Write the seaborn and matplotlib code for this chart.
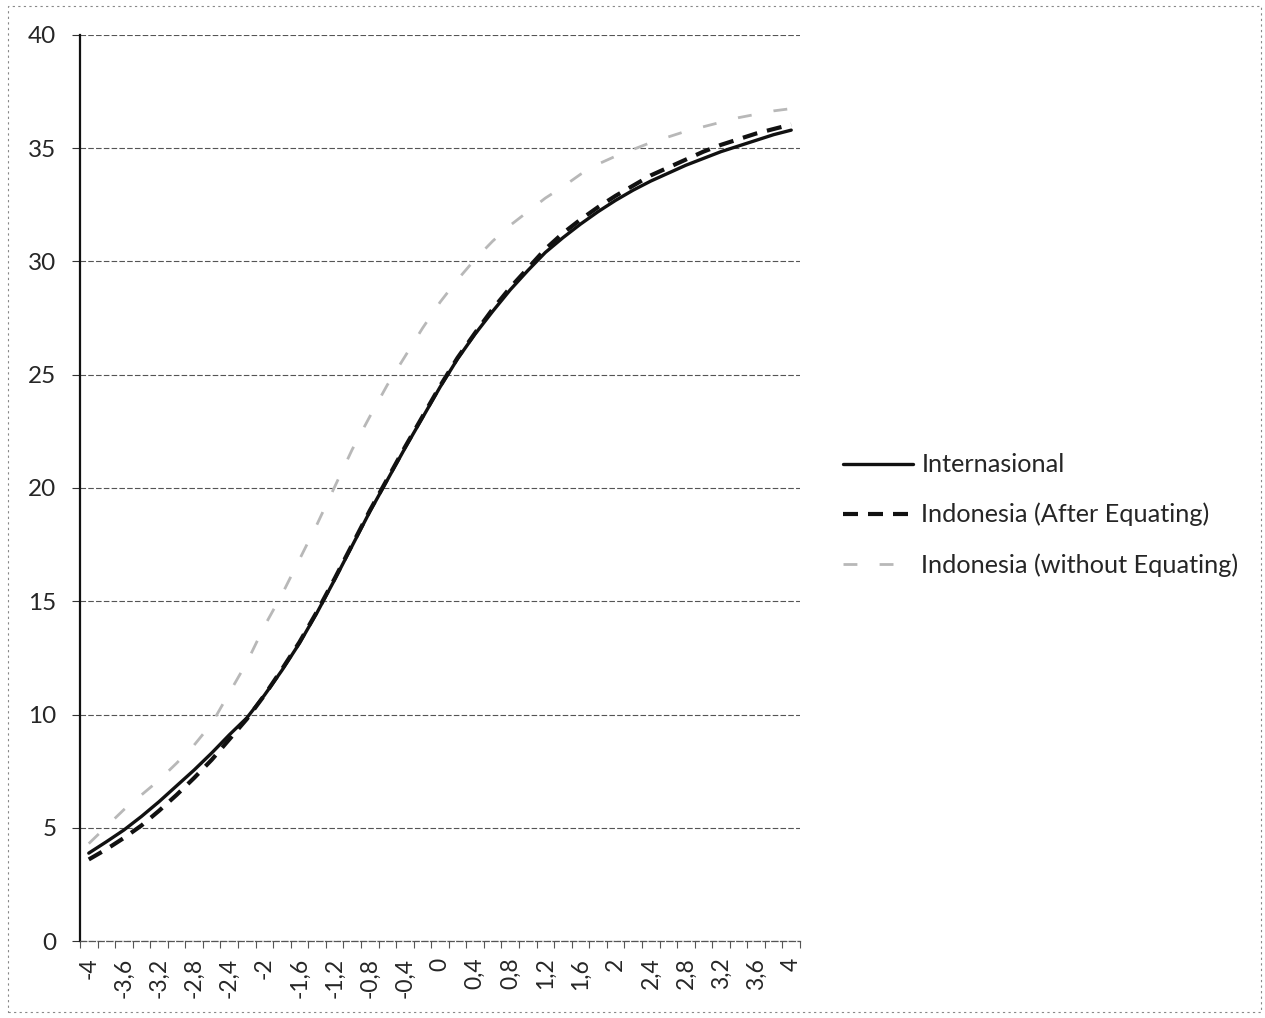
import numpy as np
import pandas as pd
import matplotlib
matplotlib.use("Agg")
import matplotlib.pyplot as plt
from matplotlib.lines import Line2D
from matplotlib.patches import Rectangle
import seaborn as sns

# Ability scale (theta) and the three test characteristic curves
theta = [-4.0, -3.8, -3.6, -3.4, -3.2, -3.0, -2.8, -2.6, -2.4, -2.2, -2.0,
         -1.8, -1.6, -1.4, -1.2, -1.0, -0.8, -0.6, -0.4, -0.2, 0.0,
         0.2, 0.4, 0.6, 0.8, 1.0, 1.2, 1.4, 1.6, 1.8, 2.0,
         2.2, 2.4, 2.6, 2.8, 3.0, 3.2, 3.4, 3.6, 3.8, 4.0]

internasional = [3.88, 4.38, 4.90, 5.50, 6.15, 6.85, 7.55, 8.30, 9.10, 9.85, 10.85,
                 11.95, 13.15, 14.50, 15.95, 17.45, 18.95, 20.35, 21.75, 23.10, 24.45,
                 25.70, 26.80, 27.80, 28.75, 29.60, 30.40, 31.05, 31.65, 32.20, 32.70,
                 33.15, 33.55, 33.90, 34.25, 34.55, 34.85, 35.10, 35.35, 35.60, 35.80]

after_equating = [3.60, 4.05, 4.55, 5.10, 5.75, 6.45, 7.20, 8.00, 8.90, 9.80, 10.85,
                  12.00, 13.20, 14.55, 16.00, 17.50, 19.00, 20.40, 21.80, 23.15, 24.50,
                  25.75, 26.85, 27.90, 28.85, 29.70, 30.55, 31.25, 31.85, 32.40, 32.90,
                  33.35, 33.80, 34.15, 34.50, 34.85, 35.15, 35.40, 35.65, 35.85, 36.05]

without_equating = [4.30, 5.05, 5.80, 6.45, 7.10, 7.85, 8.65, 9.60, 10.95, 12.30, 13.90,
                    15.30, 16.85, 18.40, 20.05, 21.70, 23.15, 24.55, 25.80, 27.05, 28.20,
                    29.20, 30.10, 30.90, 31.60, 32.20, 32.80, 33.30, 33.85, 34.30, 34.65,
                    34.95, 35.25, 35.50, 35.75, 35.95, 36.15, 36.35, 36.50, 36.65, 36.75]

series_names = ["Internasional", "Indonesia (After Equating)", "Indonesia (without Equating)"]

x_tick_values = [-4.0, -3.6, -3.2, -2.8, -2.4, -2.0, -1.6, -1.2, -0.8, -0.4, 0.0,
                 0.4, 0.8, 1.2, 1.6, 2.0, 2.4, 2.8, 3.2, 3.6, 4.0]
x_tick_labels = ["-4", "-3,6", "-3,2", "-2,8", "-2,4", "-2", "-1,6", "-1,2", "-0,8", "-0,4", "0",
                 "0,4", "0,8", "1,2", "1,6", "2", "2,4", "2,8", "3,2", "3,6", "4"]
y_ticks = [0, 5, 10, 15, 20, 25, 30, 35, 40]

sns.set_style("white")
plt.rcParams["font.family"] = ["Lato", "DejaVu Sans"]

df = pd.DataFrame({
    "theta": theta * 3,
    "score": internasional + after_equating + without_equating,
    "series": sum([[name] * len(theta) for name in series_names], []),
})

W, H = 1265, 1018
fig = plt.figure(figsize=(W / 100, H / 100), dpi=100)
ax = fig.add_axes([80 / W, 1 - 941 / H, 720 / W, (941 - 35) / H])

styles = {
    "Internasional": dict(color="#111111", lw=2.4, dashes=None, z=3),
    "Indonesia (After Equating)": dict(color="#111111", lw=3.0, dashes=(3.6, 2.4), z=4),
    "Indonesia (without Equating)": dict(color="#b8b8b8", lw=2.0, dashes=(5.0, 8.0), z=2),
}

handles = []
for name in series_names:
    st = styles[name]
    sub = df[df["series"] == name]
    sns.lineplot(data=sub, x="theta", y="score", ax=ax, color=st["color"],
                 linewidth=st["lw"], zorder=st["z"], legend=False)
    line = ax.get_lines()[-1]
    if st["dashes"] is not None:
        line.set_dashes(st["dashes"])
    h = Line2D([], [], color=st["color"], lw=st["lw"])
    if st["dashes"] is not None:
        h.set_dashes(st["dashes"])
    handles.append(h)

# Axes limits and ticks (category-style boundaries at +-0.1 around each theta)
ax.set_xlim(-4.1, 4.1)
ax.set_ylim(0, 40)
ax.set_xlabel("")
ax.set_ylabel("")

boundaries = np.round(np.arange(-4.1, 4.11, 0.2), 2)
ax.set_xticks(boundaries)
ax.set_xticklabels([])
ax.set_xticks(x_tick_values, minor=True)
ax.set_xticklabels(x_tick_labels, minor=True, rotation=90, fontsize=16.5)
ax.tick_params(axis="x", which="major", direction="out", length=5, width=0.8,
               color="#555555", bottom=True)
ax.tick_params(axis="x", which="minor", length=0, pad=12, bottom=True)

ax.set_yticks(y_ticks)
ax.set_yticklabels([str(v) for v in y_ticks], fontsize=17.5)
ax.tick_params(axis="y", direction="out", length=6, width=0.8, color="#333333",
               pad=11, left=True)

ax.yaxis.grid(True, color="#555555", linewidth=0.8, linestyle=(0, (5, 2)))
ax.xaxis.grid(False)
ax.set_axisbelow(True)

for side in ["top", "right"]:
    ax.spines[side].set_visible(False)
ax.spines["left"].set_color("#111111")
ax.spines["left"].set_linewidth(1.6)
ax.spines["bottom"].set_color("#555555")
ax.spines["bottom"].set_linewidth(0.9)
ax.spines["bottom"].set_linestyle((0, (5, 2)))

ax.legend(handles, series_names, loc="center left",
          bbox_to_anchor=(843 / W, 1 - 515 / H), bbox_transform=fig.transFigure,
          frameon=False, fontsize=18.2, handlelength=2.75, handletextpad=0.35,
          labelspacing=1.05, borderpad=0, borderaxespad=0)

# Dotted chart-area border
fig.patches.append(Rectangle((8 / W, 6 / H), 1 - 12 / W, 1 - 12 / H,
                             transform=fig.transFigure, fill=False,
                             edgecolor="#888888", linewidth=0.8,
                             linestyle=(0, (2, 3))))

fig.savefig("out.png", dpi=100, facecolor="white")
